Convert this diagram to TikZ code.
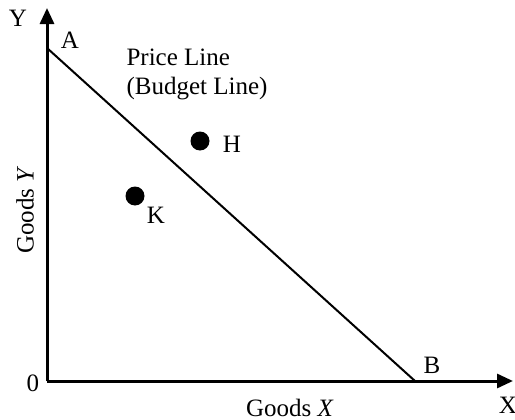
\documentclass[tikz,border=0pt]{standalone}
\usepackage{fontspec}
\setmainfont{Liberation Serif}
\usetikzlibrary{arrows.meta}

\begin{document}
\begin{tikzpicture}[x=0.5pt,y=0.5pt,font=\fontsize{12.5}{14.5}\selectfont,
  axis/.style={line width=1.5pt,-{Triangle[length=8pt,width=7pt]}},
  budget/.style={line width=1pt},
  bundle/.style={circle,fill=black,inner sep=0pt,minimum size=9.5pt}]
\useasboundingbox (0,0) rectangle (515,419);
\coordinate (O) at (47,38);
\coordinate (Ytop) at (47,411);
\coordinate (Xend) at (513,38);
\coordinate (A) at (47,371);
\coordinate (B) at (415,38);
\draw[axis] (O)--(Ytop);
\draw[axis] (O)--(Xend);
\draw[budget] (A)--(B);
\node[bundle] (H) at (200,278) {};
\node[bundle] (K) at (135,223) {};
\node (labY) at (18,401) {Y};
\node (labX) at (508,14) {X};
\node (labA) at (70,379) {A};
\node (labB) at (432,54) {B};
\node (lab0) at (33,36) {0};
\node (labH) at (232,275) {H};
\node (labK) at (156,204) {K};
\node[align=left] (price) at (197,345) {Price Line\\(Budget Line)};
\node (goodsX) at (290,11) {Goods \textit{X}};
\node[rotate=90] (goodsY) at (25,209) {Goods \textit{Y}};
\end{tikzpicture}
\end{document}
